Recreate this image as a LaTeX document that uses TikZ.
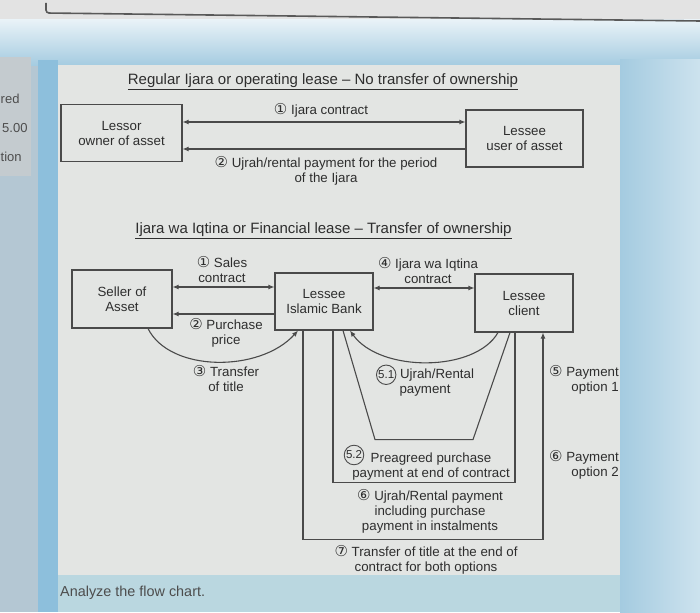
\documentclass[tikz,border=0pt]{standalone}
\usepackage{fontspec}
\setmainfont{Liberation Sans}
\newfontfamily\symfont{DejaVu Sans}
\usetikzlibrary{arrows.meta}

\definecolor{ink}{HTML}{2E2E2E}
\definecolor{wire}{HTML}{4A4A4A}
\definecolor{paper}{HTML}{E3E5E3}
\definecolor{skyblue}{HTML}{A4CBE0}
\definecolor{stripblue}{HTML}{8DBFDC}
\definecolor{panelgrey}{HTML}{C4CBCF}
\definecolor{bandblue}{HTML}{BAD7E0}

\newcommand\bodyfont{\fontsize{13.3}{15}\selectfont}
\newcommand\headfont{\fontsize{15}{17}\selectfont}
\newcommand\cnum[1]{{\symfont\fontsize{15}{15}\selectfont #1}}
\newcommand\cring[1]{\tikz[baseline=(r.base)]\node[draw=wire,line width=0.9pt,circle,
  inner sep=0.6pt,font=\fontsize{11.5}{12}\selectfont](r){#1};}

\tikzset{
  twoway/.style={{Latex[length=6pt,width=5pt]}-{Latex[length=6pt,width=5pt]}},
  backtip/.style={{Latex[length=6pt,width=5pt]}-},
  tip/.style={-{Latex[length=6pt,width=5pt]}}
}

\begin{document}
\begin{tikzpicture}[x=1pt,y=-1pt,
  entity/.style={draw=wire,line width=1.1pt,fill=paper,text=ink,align=center,
    font=\bodyfont,minimum height=57pt,inner sep=0pt},
  flow/.style={draw=wire,line width=1.1pt},
  note/.style={text=ink,align=center,font=\bodyfont,inner sep=0pt},
  heading/.style={text=ink,font=\headfont,inner sep=0pt}]
  \useasboundingbox (0,0) rectangle (700,612);
  % screen around the figure
  \fill[panelgrey!70!stripblue] (0,0) rectangle (700,612);
  \fill[gray!22] (0,0) rectangle (700,24);
  \shade[top color=white!75!skyblue,bottom color=skyblue] (0,20) rectangle (700,66);
  \draw[black!65,line width=1.6pt,rounded corners=3pt] (46,3) -- (46,13) -- (700,21);
  \fill[panelgrey] (0,57) rectangle (31,176);
  \fill[stripblue] (38,60) rectangle (58,612);
  \shade[left color=skyblue,right color=skyblue!55!white] (620,60) rectangle (700,612);
  \fill[paper] (58,65) rectangle (620,575);
  \fill[bandblue] (58,575) rectangle (620,612);
  \node[anchor=west,text=ink!85,font=\fontsize{13}{14}\selectfont,inner sep=0pt] (red) at (0.5,99) {red};
  \node[anchor=west,text=ink!85,font=\fontsize{13}{14}\selectfont,inner sep=0pt] (score) at (2,128) {5.00};
  \node[anchor=west,text=ink!85,font=\fontsize{13}{14}\selectfont,inner sep=0pt] (tion) at (0.5,157) {tion};
  \node[anchor=west,text=ink!85,font=\fontsize{14.4}{16}\selectfont,inner sep=0pt] (ask) at (60,593) {Analyze the flow chart.};

  % regular ijara
  \node[heading] (title1) at (323,82) {\underline{Regular Ijara or operating lease – No transfer of ownership}};
  \node[entity,minimum width=121pt] (lessor) at (121.5,133) {Lessor\\owner of asset};
  \node[entity,minimum width=117pt] (user) at (524.5,138.5) {Lessee\\user of asset};
  \coordinate (ijara) at ([yshift=11pt]lessor.east);
  \coordinate (rent) at ([yshift=-16pt]lessor.east);
  \draw[flow,twoway] (ijara) -- (ijara -| user.west);
  \draw[flow,backtip] (rent) -- (rent -| user.west);
  \node[note] (ijaralbl) at (321,110) {\cnum{①} Ijara contract};
  \node[note] (rentlbl) at (326,170.5) {\cnum{②} Ujrah/rental payment for the period\\of the Ijara};

  % ijara wa iqtina
  \node[heading] (title2) at (323.5,231) {\underline{Ijara wa Iqtina or Financial lease – Transfer of ownership}};
  \node[entity,minimum width=100pt,minimum height=58pt] (seller) at (122,299) {Seller of\\Asset};
  \node[entity,minimum width=98pt] (bank) at (324,301.5) {Lessee\\Islamic Bank};
  \node[entity,minimum width=98pt,minimum height=58pt] (client) at (524,303) {Lessee\\client};
  \coordinate (sale) at ([yshift=12pt]seller.east);
  \coordinate (price) at ([yshift=-15pt]seller.east);
  \coordinate (lease) at ([yshift=13.5pt]bank.east);
  \draw[flow,twoway] (sale) -- (sale -| bank.west);
  \draw[flow,backtip] (price) -- (price -| bank.west);
  \draw[flow,tip] ([xshift=26pt]seller.south) .. controls +(22,44) and +(-38,42) .. ([xshift=-26pt]bank.south);
  \draw[flow,twoway] (lease) -- (lease -| client.west);
  \draw[flow,tip] ([xshift=-26pt]client.south) .. controls +(-23,40) and +(30,42) .. ([xshift=26pt]bank.south);
  \draw[flow] ([xshift=19pt]bank.south) -- ++(32,109) -- ++(98,0) -- ([xshift=-14pt]client.south);
  \draw[flow] ([xshift=9pt]bank.south) -- ++(0,152) -| ([xshift=-9pt]client.south);
  \draw[flow,tip] ([xshift=-21pt]bank.south) -- ++(0,209) -| ([xshift=19pt]client.south);
  \node[note] (salelbl) at (222,270) {\cnum{①} Sales\\contract};
  \node[note] (pricelbl) at (226,332.5) {\cnum{②} Purchase\\price};
  \node[note] (titlelbl) at (226,379) {\cnum{③} Transfer\\of title};
  \node[note] (leaselbl) at (428,271) {\cnum{④} Ijara wa Iqtina\\contract};
  \node[note] (rentallbl) at (425,380.5) {\cring{5.1} Ujrah/Rental\\payment};
  \node[note,align=right,anchor=east] (opt1lbl) at (619,380) {\cnum{⑤} Payment\\option 1};
  \node[note,align=right,anchor=east] (opt2lbl) at (619,464.5) {\cnum{⑥} Payment\\option 2};
  \node[draw=wire,line width=0.9pt,circle,inner sep=0.6pt,text=ink,font=\fontsize{11.5}{12}\selectfont] (pre) at (354,455) {5.2};
  \node[note] (prelbl) at (431,466.5) {Preagreed purchase\\payment at end of contract};
  \node[note] (instlbl) at (430,511) {\cnum{⑥} Ujrah/Rental payment\\including purchase\\payment in instalments};
  \node[note] (endlbl) at (426,559.5) {\cnum{⑦} Transfer of title at the end of\\contract for both options};
\end{tikzpicture}
\end{document}
